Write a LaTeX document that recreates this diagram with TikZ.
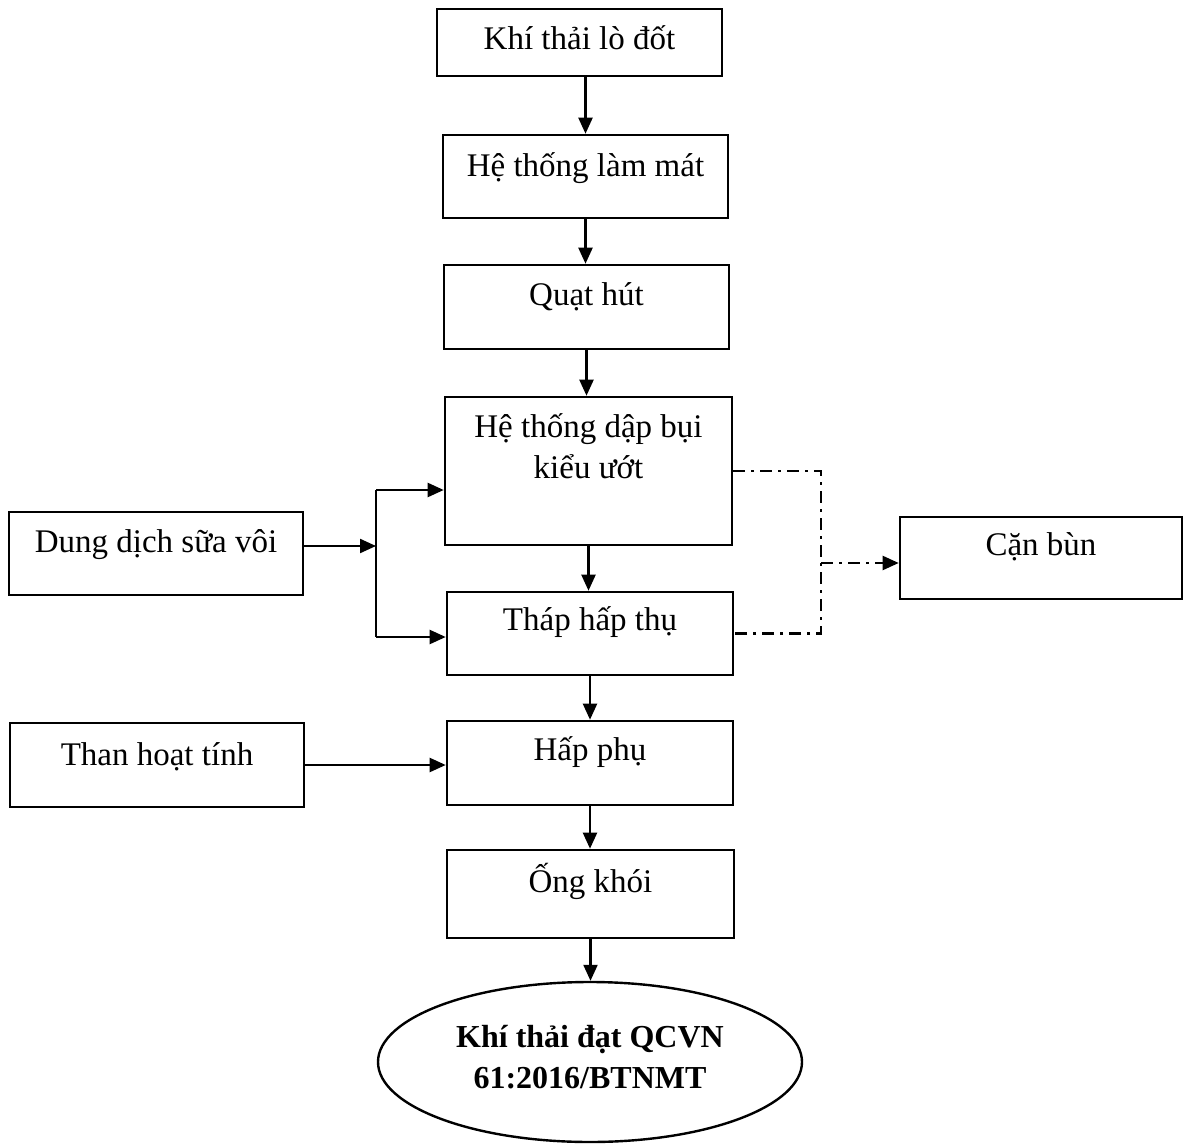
\documentclass[tikz,border=0pt]{standalone}
\usepackage{fontspec}
\setmainfont{Liberation Serif}
\usetikzlibrary{arrows.meta,shapes.geometric}
\newcommand{\lft}[2]{\raisebox{#1pt}{#2}}
\newcommand{\twol}[2]{\vtop{\baselineskip=41pt\lineskiplimit=-1000pt\halign{\hfil##\hfil\cr #1\cr #2\cr}}}
\tikzset{
  box/.style={draw, line width=2.6pt, rectangle, inner sep=0pt, text height=22pt, text depth=8pt, font=\fontsize{33}{41}\selectfont},
  arr/.style={line width=2.2pt, -{Triangle[length=16pt,width=14pt]}},
  dd/.style={line width=2.2pt, dash pattern=on 12pt off 6pt on 3pt off 6pt},
}
\begin{document}
\begin{tikzpicture}[x=1pt,y=-1pt]
\useasboundingbox (0,0) rectangle (1184,1145);
\node[box, minimum width=285pt, minimum height=67pt] (b1) at (579.5,42.5) {\lft{0}{Khí thải lò đốt}};
\node[box, minimum width=285pt, minimum height=83pt] (b2) at (585.5,176.5) {\lft{7.5}{Hệ thống làm mát}};
\node[box, minimum width=285pt, minimum height=84pt] (b3) at (586.5,307) {\lft{9}{Quạt hút}};
\node[box, minimum width=287pt, minimum height=148pt] (b4) at (588.5,471) {\lft{41}{\twol{Hệ thống dập bụi}{kiểu ướt}}};
\node[box, minimum width=286pt, minimum height=83pt] (b5) at (590,633.5) {\lft{10.5}{Tháp hấp thụ}};
\node[box, minimum width=286pt, minimum height=84pt] (b6) at (590,763) {\lft{10}{Hấp phụ}};
\node[box, minimum width=287pt, minimum height=88pt] (b7) at (590.5,894) {\lft{9}{Ống khói}};
\node[box, minimum width=294pt, minimum height=83pt] (dd) at (156,553.5) {\lft{8.5}{Dung dịch sữa vôi}};
\node[box, minimum width=294pt, minimum height=84pt] (than) at (157,765) {\lft{7}{Than hoạt tính}};
\node[box, minimum width=282pt, minimum height=82pt] (can) at (1041,558) {\lft{10}{Cặn bùn}};
\node[draw, ellipse, line width=2.4pt, minimum width=424pt, minimum height=160pt, inner sep=0pt,
      text height=22pt, text depth=8pt, font=\bfseries\fontsize{32}{41}\selectfont] (e) at (590,1062)
      {\lft{22}{\twol{Khí thải đạt QCVN}{61:2016/BTNMT}}};
% main flow
\draw[arr] (b1.south -| b2.north) -- (b2.north);
\draw[arr] (b2.south) -- (b2.south |- b3.north);
\draw[arr] (b3.south) -- (b3.south |- b4.north);
\draw[arr] (b4.south) -- (b4.south |- b5.north);
\draw[arr] (b5.south) -- (b5.south |- b6.north);
\draw[arr] (b6.south) -- (b6.south |- b7.north);
\draw[arr] (b7.south) -- (b7.south |- e.north);
% left inputs
\coordinate (lj) at (376,546);
\coordinate (lt) at (376,490);
\coordinate (lb) at (376,637);
\draw[arr] (dd.east |- lj) -- (lj);
\draw[line width=2.2pt] (lt) -- (lb);
\draw[arr] (lt) -- (lt -| b4.west);
\draw[arr] (lb) -- (lb -| b5.west);
\draw[arr] (than.east) -- (than.east -| b6.west);
% sludge
\coordinate (jx) at (821,563);
\draw[dd] (b4.east) -| (jx) |- (b5.east);
\draw[dd,arr] (jx) -- (jx -| can.west);
\end{tikzpicture}
\end{document}
